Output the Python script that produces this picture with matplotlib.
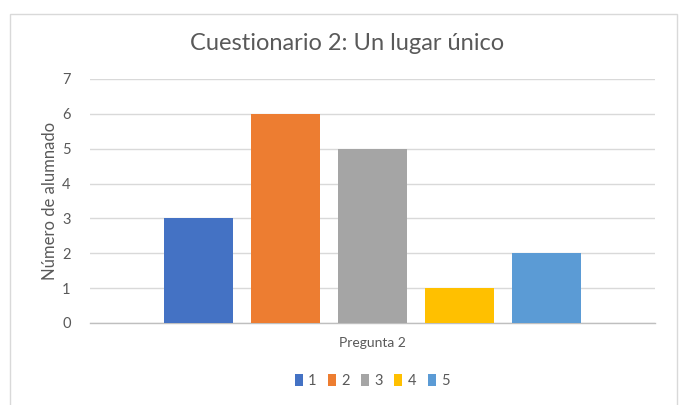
import matplotlib
matplotlib.use("Agg")
import matplotlib.pyplot as plt
from matplotlib.patches import Rectangle, Patch

plt.rcParams['font.family'] = ['Lato', 'DejaVu Sans']

title = "Cuestionario 2: Un lugar único"
category = "Pregunta 2"
series = ["1", "2", "3", "4", "5"]
values = [3, 6, 5, 1, 2]
colors = ["#4472C4", "#ED7D31", "#A5A5A5", "#FFC000", "#5B9BD5"]
yticks = [0, 1, 2, 3, 4, 5, 6, 7]

fig = plt.figure(figsize=(6.86, 4.05), dpi=100)
W, H = 686, 405

# chart border
fig.patches.append(Rectangle((10 / W, -0.05), 667 / W, 1.05 - 14 / H,
                             transform=fig.transFigure, fill=False,
                             edgecolor="#D9D9D9", linewidth=1.0))

ax = fig.add_axes([90 / W, (H - 323) / H, 565 / W, 244 / H])
pos = list(range(len(series)))
ax.bar(pos, values, width=0.79, color=colors, zorder=3)
ax.set_xlim(2 - 3.247, 2 + 3.247)
ax.set_ylim(0, 7)
ax.set_yticks(yticks)
ax.set_xticks([])
ax.yaxis.grid(True, color="#D9D9D9", linewidth=1.0, zorder=0)
for s in ["top", "right", "left"]:
    ax.spines[s].set_visible(False)
ax.spines["bottom"].set_color("#BFBFBF")
ax.spines["bottom"].set_linewidth(1.0)
ax.tick_params(axis="y", length=0, pad=14, labelsize=10.5, labelcolor="#595959")

ax.set_ylabel("Número de alumnado", fontsize=12, color="#595959", labelpad=3)
ax.set_xlabel(category, fontsize=10, color="#595959", labelpad=10)

fig.text(347 / W, 1 - 44 / H, title, ha="center", va="center",
         fontsize=17, color="#595959")

handles = [Patch(facecolor=c, edgecolor="none") for c in colors]
fig.legend(handles, series, loc="center", bbox_to_anchor=(372 / W, 1 - 381 / H),
           ncol=5, frameon=False, fontsize=10.5, labelcolor="#595959",
           handlelength=0.55, handleheight=0.85, handletextpad=0.35,
           columnspacing=0.8)

fig.savefig("out.png", dpi=100)
